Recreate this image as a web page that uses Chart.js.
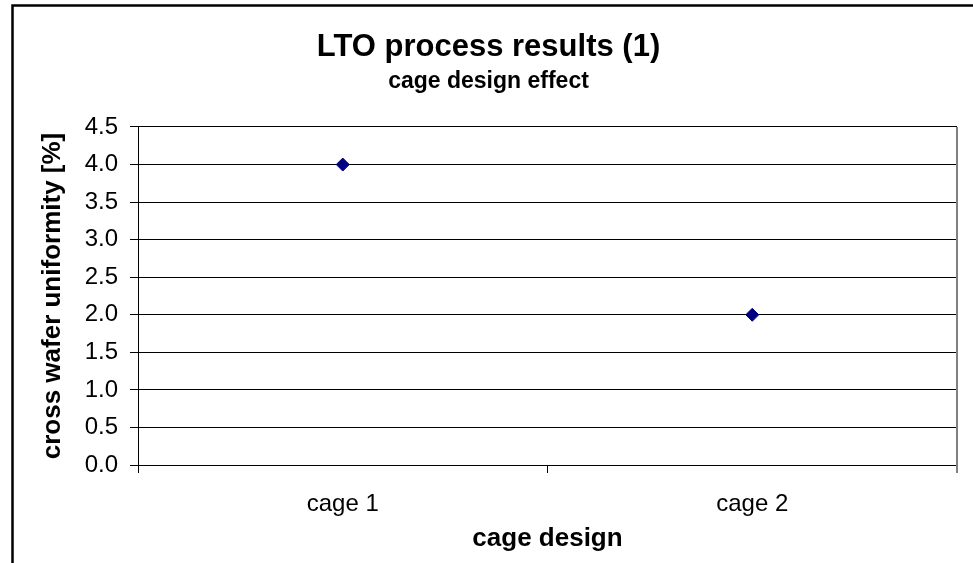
<!DOCTYPE html>
<html>
<head>
<meta charset="utf-8">
<script src="https://cdn.jsdelivr.net/npm/chart.js@4/dist/chart.umd.min.js"></script>
<style>
  html, body { margin: 0; padding: 0; background: #fff; }
  #wrap { width: 973px; height: 563px; position: relative; }
</style>
</head>
<body>
<div id="wrap"><canvas id="c"></canvas></div>
<script>
const categories = ['cage 1', 'cage 2'];
const uniformity = [4.0, 2.0];
const yMin = 0, yMax = 4.5, yStep = 0.5;
const titleText = 'LTO process results (1)';
const subtitleText = 'cage design effect';
const xTitle = 'cage design';
const yTitle = 'cross wafer uniformity [%]';

const FONT = "'Liberation Sans', Arial, Helvetica, sans-serif";

const framePlugin = {
  id: 'frame',
  afterDraw(chart) {
    const ctx = chart.ctx;
    const a = chart.chartArea;
    ctx.save();
    // outer chart frame
    ctx.strokeStyle = '#000';
    ctx.lineWidth = 2.5;
    ctx.strokeRect(12.5, 5.5, 1000, 700);
    // plot area right border (gray)
    ctx.strokeStyle = '#808080';
    ctx.lineWidth = 2;
    ctx.beginPath();
    ctx.moveTo(a.right, a.top);
    ctx.lineTo(a.right, a.bottom + 8);
    ctx.stroke();
    ctx.restore();
  }
};

new Chart(document.getElementById('c'), {
  type: 'line',
  data: {
    labels: categories,
    datasets: [{
      data: uniformity,
      showLine: false,
      pointStyle: 'rectRot',
      pointRadius: 6.5,
      pointHoverRadius: 6.5,
      pointBackgroundColor: '#000080',
      pointBorderColor: '#000080',
      pointBorderWidth: 1
    }]
  },
  options: {
    responsive: true,
    maintainAspectRatio: false,
    animation: false,
    layout: { padding: { top: 0, left: 20, right: 16, bottom: 0 } },
    plugins: {
      legend: { display: false },
      tooltip: { enabled: false },
      title: {
        display: true,
        text: titleText,
        color: '#000',
        font: { family: FONT, size: 31, weight: 'bold', lineHeight: 1.2 },
        padding: { top: 29, bottom: 0 }
      },
      subtitle: {
        display: true,
        text: subtitleText,
        color: '#000',
        font: { family: FONT, size: 23, weight: 'bold', lineHeight: 1.2 },
        padding: { top: 1.5, bottom: 31.7 }
      }
    },
    scales: {
      x: {
        type: 'category',
        offset: true,
        grid: {
          offset: true,
          drawOnChartArea: false,
          drawTicks: true,
          tickLength: 8,
          color: '#000',
          lineWidth: 1
        },
        border: { display: true, color: '#000', width: 1 },
        ticks: {
          color: '#000',
          font: { family: FONT, size: 24 },
          padding: 17,
          maxRotation: 0
        },
        title: {
          display: true,
          text: xTitle,
          color: '#000',
          font: { family: FONT, size: 26, weight: 'bold', lineHeight: 1.2 },
          padding: { top: 0, bottom: 8.7 }
        },
        afterFit(scale) { scale.height = 98; }
      },
      y: {
        min: yMin,
        max: yMax,
        grid: {
          color: '#000',
          lineWidth: 1,
          tickLength: 8
        },
        border: { display: true, color: '#000', width: 1 },
        ticks: {
          stepSize: yStep,
          color: '#000',
          font: { family: FONT, size: 24 },
          padding: 12,
          callback: (v) => Number(v).toFixed(1)
        },
        title: {
          display: true,
          text: yTitle,
          color: '#000',
          font: { family: FONT, size: 26, weight: 'bold', lineHeight: 1.2 },
          padding: { top: 17.4, bottom: 0 }
        },
        afterFit(scale) { scale.width = 118; }
      }
    }
  },
  plugins: [framePlugin]
});
</script>
</body>
</html>
